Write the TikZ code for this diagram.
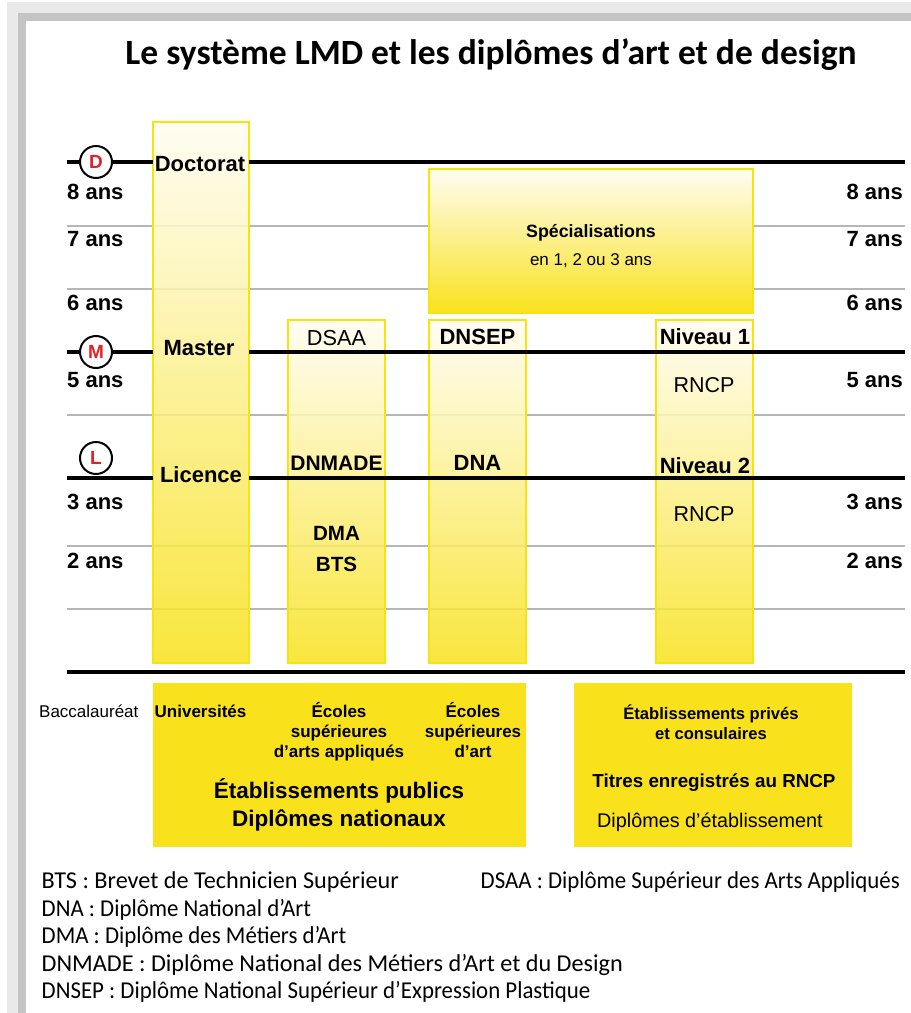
\documentclass[tikz,border=0pt]{standalone}
\usepackage{fontspec}
\setmainfont{Liberation Sans}
\newfontfamily\calibri{Carlito}
\newfontfamily\calibrieng{Carlito}[FakeStretch=0.945]

\definecolor{gelb}{RGB}{249,226,28}
\definecolor{rand}{RGB}{246,228,10}
\definecolor{hell}{RGB}{255,253,242}
\definecolor{rot}{RGB}{226,32,38}
\definecolor{grauhell}{RGB}{233,233,233}
\definecolor{graudunkel}{RGB}{196,196,196}
\definecolor{linie}{RGB}{182,182,182}

\newcommand{\gr}[1]{\fontsize{#1}{#1}\selectfont}

\tikzset{
    txt/.style={inner sep=0pt, anchor=base},
    jahr/.style={txt, font=\gr{22}\bfseries},
    kreis/.style={draw=black, line width=2pt, fill=white},
    buchstabe/.style={inner sep=0pt, text=rot, font=\gr{19}\bfseries},
    balken/.style={draw=rand, line width=2pt, top color=hell, bottom color=gelb},
    dick/.style={line width=4.5pt},
    duenn/.style={draw=linie, line width=1.2pt},
    kasten/.style={fill=gelb},
    legende/.style={txt, anchor=base west, font=\calibri\gr{24.2}},
    legendeeng/.style={legende, font=\calibrieng\gr{24.2}}
}

\begin{document}
\begin{tikzpicture}[x=1pt, y=-1pt]
        \useasboundingbox (0,0) rectangle (911,1013);

        % Rahmen
        \fill[white] (0,0) rectangle (911,1013);
        \fill[grauhell] (7,2) rectangle (911,1013);
        \fill[graudunkel] (18,13) rectangle (911,1013);
        \fill[white] (26,21) rectangle (911,1013);

        % Titel
        \node[txt, font=\calibri\bfseries\gr{35.5}] (titel) at (491,64) {Le système LMD et les diplômes d’art et de design};

        % duenne Linien
        \draw[duenn] (67,226) -- (905,226);
        \draw[duenn] (67,289) -- (905,289);
        \draw[duenn] (67,415) -- (905,415);
        \draw[duenn] (67,546) -- (905,546);
        \draw[duenn] (67,609) -- (905,609);

        % Balken
        \draw[balken, fill opacity=0.85] (153,122) rectangle (249,663); % Universites
        \draw[balken, fill opacity=0.85] (288,320) rectangle (385,663); % DSAA
        \draw[balken, fill opacity=0.85] (429,320) rectangle (526,663); % DNSEP
        \draw[balken, fill opacity=0.85] (656,320) rectangle (753,663); % Niveau

        % dicke Linien
        \draw[dick] (67,162) -- (153,162);
        \draw[dick] (249,162) -- (905,162);
        \draw[dick] (67,352) -- (153,352);
        \draw[dick] (249,352) -- (905,352);
        \draw[dick] (67,478) -- (153,478);
        \draw[dick] (249,478) -- (905,478);
        \draw[dick] (67,672) -- (905,672);

        % Spezialisierungen
        \draw[balken] (429,169) rectangle (753,313);
        \node[txt, font=\gr{17.8}\bfseries] (spez) at (591,237) {Spécialisations};
        \node[txt, font=\gr{17}] (spezdauer) at (591,265) {en 1, 2 ou 3 ans};

        % Kreise
        \draw[kreis] (96,162) circle[radius=16];
        \draw[kreis] (96,352) circle[radius=16];
        \draw[kreis] (96,458) circle[radius=16];
        \node[buchstabe] (kd) at (96,162) {D};
        \node[buchstabe] (km) at (96,352) {M};
        \node[buchstabe] (kl) at (96,458) {L};

        % Jahre links
        \node[jahr, anchor=base west] (l8) at (67,199) {8 ans};
        \node[jahr, anchor=base west] (l7) at (67,246) {7 ans};
        \node[jahr, anchor=base west] (l6) at (67,310) {6 ans};
        \node[jahr, anchor=base west] (l5) at (67,387) {5 ans};
        \node[jahr, anchor=base west] (l3) at (67,509) {3 ans};
        \node[jahr, anchor=base west] (l2) at (67,568) {2 ans};

        % Jahre rechts
        \node[jahr, anchor=base east] (r8) at (903,199) {8 ans};
        \node[jahr, anchor=base east] (r7) at (903,246) {7 ans};
        \node[jahr, anchor=base east] (r6) at (903,310) {6 ans};
        \node[jahr, anchor=base east] (r5) at (903,387) {5 ans};
        \node[jahr, anchor=base east] (r3) at (903,509) {3 ans};
        \node[jahr, anchor=base east] (r2) at (903,568) {2 ans};

        % Stufen
        \node[jahr] (doktorat) at (200,171) {Doctorat};
        \node[jahr] (master) at (199,355) {Master};
        \node[jahr] (licence) at (201,482) {Licence};

        % Diplome
        \node[txt, font=\gr{21.7}] (dsaa) at (336.5,345) {DSAA};
        \node[jahr, font=\gr{21}\bfseries] (dnmade) at (336.5,470) {DNMADE};
        \node[jahr, font=\gr{20.6}\bfseries] (dma) at (336.5,540) {DMA};
        \node[jahr, font=\gr{20.6}\bfseries] (bts) at (336.5,571) {BTS};
        \node[jahr] (dnsep) at (477.5,344) {DNSEP};
        \node[jahr] (dna) at (477.5,470) {DNA};
        \node[jahr] (niv1) at (705,344) {Niveau 1};
        \node[txt, font=\gr{21.5}] (rncp1) at (704,392) {RNCP};
        \node[jahr] (niv2) at (705,473) {Niveau 2};
        \node[txt, font=\gr{21.5}] (rncp2) at (704,521) {RNCP};

        % Kaesten unten
        \fill[kasten] (153,683) rectangle (526,847);
        \fill[kasten] (574,683) rectangle (852,847);

        \node[txt, anchor=base west, font=\gr{17}] (bac) at (39,717) {Baccalauréat};
        \node[txt, font=\gr{17}\bfseries] (uni) at (200.5,717) {Universités};
        \node[txt, font=\gr{17}\bfseries] (esaa1) at (339,717) {Écoles};
        \node[txt, font=\gr{17}\bfseries] (esaa2) at (339,737) {supérieures};
        \node[txt, font=\gr{17}\bfseries] (esaa3) at (339,757) {d’arts appliqués};
        \node[txt, font=\gr{17}\bfseries] (esa1) at (473,717) {Écoles};
        \node[txt, font=\gr{17}\bfseries] (esa2) at (473,737) {supérieures};
        \node[txt, font=\gr{17}\bfseries] (esa3) at (473,757) {d’art};
        \node[txt, font=\gr{22.5}\bfseries] (pub1) at (339,798) {Établissements publics};
        \node[txt, font=\gr{22.5}\bfseries] (pub2) at (339,826) {Diplômes nationaux};

        \node[txt, font=\gr{16.6}\bfseries] (priv1) at (711,719) {Établissements privés};
        \node[txt, font=\gr{16.6}\bfseries] (priv2) at (711,739) {et consulaires};
        \node[txt, font=\gr{18.8}\bfseries] (titres) at (714,787) {Titres enregistrés au RNCP};
        \node[txt, font=\gr{19.8}] (detab) at (710,827) {Diplômes d’établissement};

        % Legende
        \node[legende] (lbts) at (41.5,888) {BTS : Brevet de Technicien Supérieur};
        \node[legendeeng, anchor=base east] (ldsaa) at (900,888) {DSAA : Diplôme Supérieur des Arts Appliqués};
        \node[legendeeng] (ldna) at (41.5,916) {DNA : Diplôme National d’Art};
        \node[legendeeng] (ldma) at (41.5,943) {DMA : Diplôme des Métiers d’Art};
        \node[legende] (ldnmade) at (41.5,971) {DNMADE : Diplôme National des Métiers d’Art et du Design};
        \node[legendeeng] (ldnsep) at (41.5,998) {DNSEP : Diplôme National Supérieur d’Expression Plastique};

    \end{tikzpicture}
\end{document}
